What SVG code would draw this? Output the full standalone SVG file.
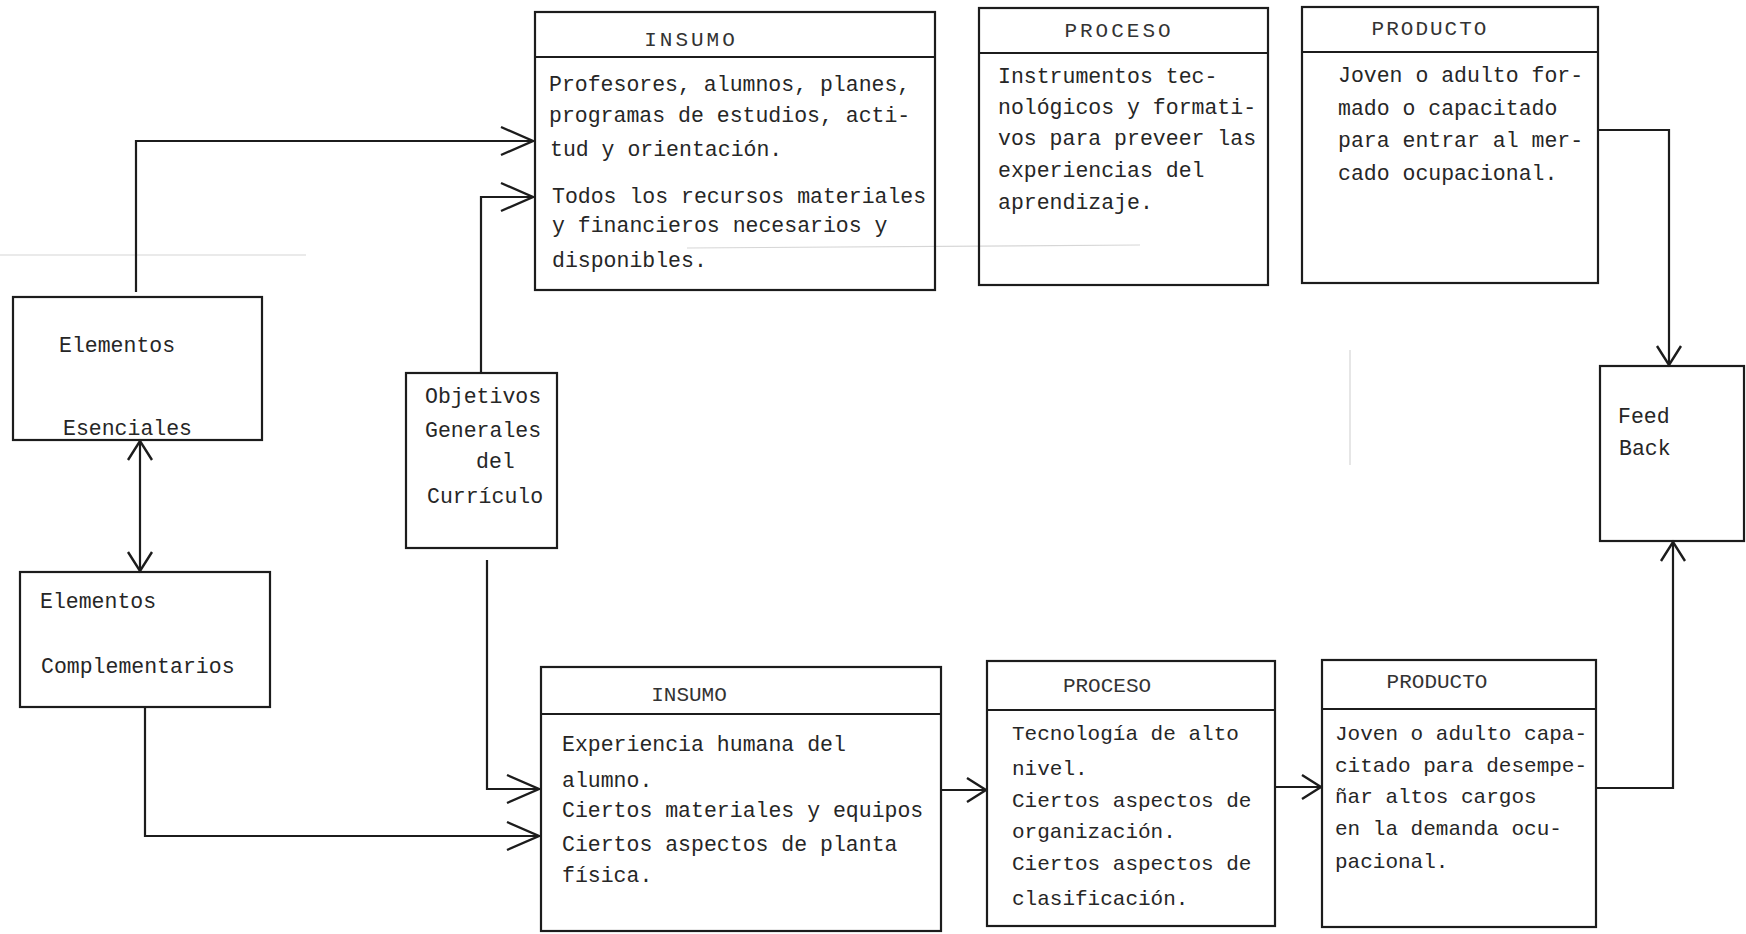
<svg xmlns="http://www.w3.org/2000/svg" width="1746" height="934" viewBox="0 0 1746 934">
<defs>
<style>
.box{fill:none;stroke:#1c1c1c;stroke-width:2.2}
.ln{fill:none;stroke:#1c1c1c;stroke-width:2.2}
.t{font-family:"Liberation Mono","DejaVu Sans Mono",monospace;font-size:21.5px;fill:#262626}
.s{font-size:21px}
.h{font-family:"Liberation Mono","DejaVu Sans Mono",monospace;font-size:21px;fill:#333;text-anchor:middle}
.hw{letter-spacing:3px}
.hp{letter-spacing:2px}
.art{fill:none;stroke:#d6d6d6;stroke-width:1.2}
</style>
<marker id="arrL" viewBox="-34 -16 38 32" refX="0" refY="0" markerWidth="38" markerHeight="32" markerUnits="userSpaceOnUse" orient="auto-start-reverse" overflow="visible">
<path d="M-32,-14 L0,0 L-32,14" fill="none" stroke="#1c1c1c" stroke-width="2.4"/>
</marker>
<marker id="arrS" viewBox="-22 -15 26 30" refX="0" refY="0" markerWidth="26" markerHeight="30" markerUnits="userSpaceOnUse" orient="auto-start-reverse" overflow="visible">
<path d="M-19,-12 L0,0 L-19,12" fill="none" stroke="#1c1c1c" stroke-width="2.4"/>
</marker>
</defs>
<rect x="0" y="0" width="1746" height="934" fill="#ffffff"/>

<g id="artifacts">
<line class="art" x1="0" y1="255" x2="306" y2="255"/>
<line class="art" x1="687" y1="248" x2="1140" y2="245"/>
<line class="art" x1="1350" y1="350" x2="1350" y2="465"/>
</g>

<g id="connectors">
<path class="ln" d="M136,292 V141 H533" marker-end="url(#arrL)"/>
<path class="ln" d="M481,373 V197 H533" marker-end="url(#arrL)"/>
<path class="ln" d="M487,560 V789 H539" marker-end="url(#arrL)"/>
<path class="ln" d="M145,707 V836 H539" marker-end="url(#arrL)"/>
<path class="ln" d="M140,441 V571" marker-start="url(#arrS)" marker-end="url(#arrS)"/>
<path class="ln" d="M941,790 H986" marker-end="url(#arrS)"/>
<path class="ln" d="M1275,787 H1321" marker-end="url(#arrS)"/>
<path class="ln" d="M1598,130 H1669 V365" marker-end="url(#arrS)"/>
<path class="ln" d="M1596,788 H1673 V542" marker-end="url(#arrS)"/>
</g>

<g id="insumo-top">
<rect class="box" x="535" y="12" width="400" height="278"/>
<line class="ln" x1="535" y1="57" x2="935" y2="57"/>
<text class="h hw" x="691" y="46">INSUMO</text>
<text class="t" x="549" y="91">Profesores, alumnos, planes,</text>
<text class="t" x="549" y="122">programas de estudios, acti-</text>
<text class="t" x="550" y="156">tud y orientación.</text>
<text class="t" x="552" y="203">Todos los recursos materiales</text>
<text class="t" x="552" y="232">y financieros necesarios y</text>
<text class="t" x="552" y="267">disponibles.</text>
</g>

<g id="proceso-top">
<rect class="box" x="979" y="8" width="289" height="277"/>
<line class="ln" x1="979" y1="53" x2="1268" y2="53"/>
<text class="h hw" x="1119" y="37">PROCESO</text>
<text class="t" x="998" y="83">Instrumentos tec-</text>
<text class="t" x="998" y="114">nológicos y formati-</text>
<text class="t" x="998" y="145">vos para preveer las</text>
<text class="t" x="998" y="177">experiencias del</text>
<text class="t" x="998" y="209">aprendizaje.</text>
</g>

<g id="producto-top">
<rect class="box" x="1302" y="7" width="296" height="276"/>
<line class="ln" x1="1302" y1="52" x2="1598" y2="52"/>
<text class="h hp" x="1430" y="35">PRODUCTO</text>
<text class="t" x="1338" y="82">Joven o adulto for-</text>
<text class="t" x="1338" y="115">mado o capacitado</text>
<text class="t" x="1338" y="147">para entrar al mer-</text>
<text class="t" x="1338" y="180">cado ocupacional.</text>
</g>

<g id="feedback">
<rect class="box" x="1600" y="366" width="144" height="175"/>
<text class="t" x="1618" y="423">Feed</text>
<text class="t" x="1619" y="455">Back</text>
</g>

<g id="elementos-esenciales">
<rect class="box" x="13" y="297" width="249" height="143"/>
<text class="t" x="59" y="352">Elementos</text>
<text class="t" x="63" y="435">Esenciales</text>
</g>

<g id="elementos-complementarios">
<rect class="box" x="20" y="572" width="250" height="135"/>
<text class="t" x="40" y="608">Elementos</text>
<text class="t" x="41" y="673">Complementarios</text>
</g>

<g id="objetivos">
<rect class="box" x="406" y="373" width="151" height="175"/>
<text class="t" x="425" y="403">Objetivos</text>
<text class="t" x="425" y="437">Generales</text>
<text class="t" x="476" y="468">del</text>
<text class="t" x="427" y="503">Currículo</text>
</g>

<g id="insumo-bottom">
<rect class="box" x="541" y="667" width="400" height="264"/>
<line class="ln" x1="541" y1="714" x2="941" y2="714"/>
<text class="h" x="689" y="701">INSUMO</text>
<text class="t" x="562" y="751">Experiencia humana del</text>
<text class="t" x="562" y="787">alumno.</text>
<text class="t" x="562" y="817">Ciertos materiales y equipos</text>
<text class="t" x="562" y="851">Ciertos aspectos de planta</text>
<text class="t" x="562" y="882">física.</text>
</g>

<g id="proceso-bottom">
<rect class="box" x="987" y="661" width="288" height="265"/>
<line class="ln" x1="987" y1="710" x2="1275" y2="710"/>
<text class="h" x="1107" y="692">PROCESO</text>
<text class="t s" x="1012" y="740">Tecnología de alto</text>
<text class="t s" x="1012" y="775">nivel.</text>
<text class="t s" x="1012" y="807">Ciertos aspectos de</text>
<text class="t s" x="1012" y="838">organización.</text>
<text class="t s" x="1012" y="870">Ciertos aspectos de</text>
<text class="t s" x="1012" y="905">clasificación.</text>
</g>

<g id="producto-bottom">
<rect class="box" x="1322" y="660" width="274" height="267"/>
<line class="ln" x1="1322" y1="709" x2="1596" y2="709"/>
<text class="h" x="1437" y="688">PRODUCTO</text>
<text class="t s" x="1335" y="740">Joven o adulto capa-</text>
<text class="t s" x="1335" y="772">citado para desempe-</text>
<text class="t s" x="1335" y="803">ñar altos cargos</text>
<text class="t s" x="1335" y="835">en la demanda ocu-</text>
<text class="t s" x="1335" y="868">pacional.</text>
</g>
</svg>
